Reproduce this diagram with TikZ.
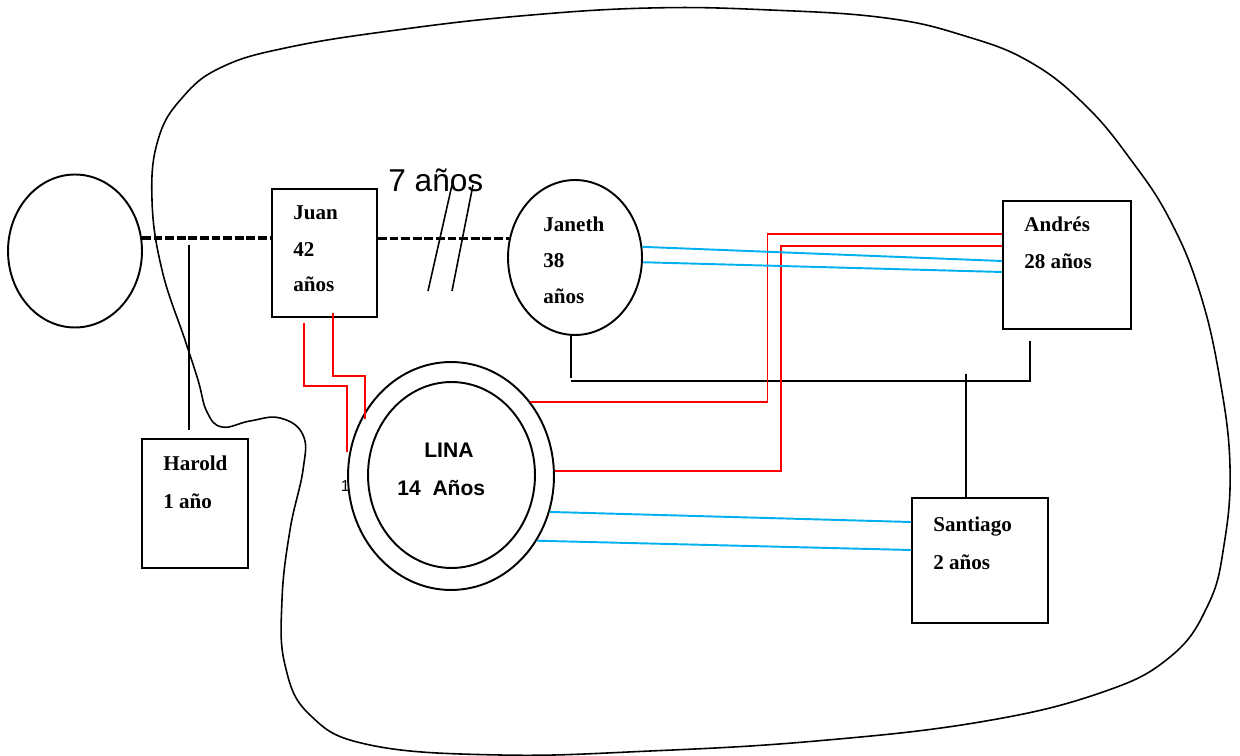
\documentclass[tikz,border=0pt]{standalone}
\usepackage{fontspec}
\setmainfont{Liberation Serif}
\setsansfont{Liberation Sans}
\usetikzlibrary{shapes.geometric}
\definecolor{linkblue}{HTML}{00B0F0}

\begin{document}
\begin{tikzpicture}[x=0.02cm, y=-0.02cm,
    person/.style={draw, line width=1.1pt, inner sep=0pt},
    male/.style={person, rectangle},
    female/.style={person, ellipse},
    lbl/.style={anchor=base west, inner sep=0pt, font=\fontsize{12}{14}\selectfont\bfseries},
    sanslbl/.style={lbl, font=\sffamily\fontsize{12}{14}\selectfont\bfseries},
    union/.style={line width=1.8pt, dash pattern=on 5pt off 1.6pt},
    kin/.style={line width=0.9pt},
    conflict/.style={line width=1.1pt, draw=red},
    closeline/.style={line width=1.1pt, draw=linkblue}]
    \useasboundingbox (0,0) rectangle (1240,756);

    % household boundary
    \draw[line width=0.9pt] plot[smooth cycle, tension=0.7] coordinates {
        (185,340) (162,270) (152,200) (158,140) (182,98) (222,67) (290,47)
        (397,30) (520,16) (650,8) (770,10) (886,18) (965,36) (1030,62)
        (1085,105) (1131,160) (1170,220) (1200,293) (1220,380) (1230,467)
        (1224,545) (1208,605) (1170,657) (1100,693) (980,722) (816,741)
        (650,751) (500,755) (370,745) (310,715) (285,665) (282,600)
        (290,530) (303,470) (303,435) (280,418) (250,421) (222,427)
        (207,412) (198,380)};

    \node[female, minimum width=2.68cm, minimum height=3.06cm] (haroldmom) at (75,251) {};
    \node[male, minimum width=2.1cm, minimum height=2.56cm] (juan) at (324.5,253) {};
    \node[female, minimum width=2.68cm, minimum height=3.1cm] (janeth) at (575,257.5) {};
    \node[male, minimum width=2.56cm, minimum height=2.56cm] (andres) at (1067,265) {};
    \node[male, minimum width=2.12cm, minimum height=2.58cm] (harold) at (195,503.5) {};
    \node[male, minimum width=2.72cm, minimum height=2.5cm] (santiago) at (980,560.5) {};
    \node[female, minimum width=4.12cm, minimum height=4.56cm] (linaout) at (451,476) {};
    \node[female, minimum width=3.34cm, minimum height=3.72cm] (lina) at (451.5,475) {};

    \node[lbl] (juanname) at (293,220) {Juan};
    \node[lbl] (juanage) at (293,257) {42};
    \node[lbl] (juanyrs) at (293,292) {años};
    \node[lbl] (janethname) at (543,232) {Janeth};
    \node[lbl] (janethage) at (543,268) {38};
    \node[lbl] (janethyrs) at (543,304) {años};
    \node[lbl] (andresname) at (1024,232) {Andrés};
    \node[lbl] (andresage) at (1024,269) {28 años};
    \node[lbl] (haroldname) at (163,470) {Harold};
    \node[lbl] (haroldage) at (163,508) {1 año};
    \node[lbl] (santiagoname) at (933,531) {Santiago};
    \node[lbl] (santiagoage) at (933,569) {2 años};
    \node[sanslbl] (linaname) at (424,458) {LINA};
    \node[sanslbl] (linaage) at (397,495) {14\ \ Años};
    \node[anchor=base east, inner sep=0pt, font=\sffamily\fontsize{9}{10}\selectfont] (strayone) at (350,491) {1};
    \node[anchor=base west, inner sep=0pt, font=\sffamily\fontsize{18}{20}\selectfont] (gapyears) at (388,192) {7 años};

    % unions
    \draw[union] (haroldmom.11) -- (haroldmom.11 -| juan.west);
    \draw[union] (juan.east |- janeth.164) -- (janeth.164);
    \draw[kin] (428,291) -- (452,185);
    \draw[kin] (452,291) -- (473,185);

    % descent
    \draw[kin] ([xshift=-0.12cm, yshift=0.16cm]harold.north) -- ++(0,-185);
    \draw[kin] ([xshift=-0.08cm]janeth.south) -- ++(0,42);
    \draw[kin] ([xshift=-0.08cm]janeth.south) ++(0,45) -| ([xshift=-0.74cm, yshift=-0.22cm]andres.south);
    \draw[kin] ([xshift=-0.28cm]santiago.north) -- ++(0,-123);

    % conflict
    \draw[conflict] ([xshift=0.66cm, yshift=-0.1cm]juan.south west) |- ++(43,63) -- ++(0,66);
    \draw[conflict] ([xshift=1.24cm, yshift=0.1cm]juan.south west) |- ++(32,63) -- ++(0,43);
    \draw[conflict] (linaout.43) -- ++(237,0) |- ([yshift=0.62cm]andres.west);
    \draw[conflict] (linaout.3) -- ++(226,0) |- ([yshift=0.38cm]andres.west);

    % close
    \draw[closeline] (janeth.9) -- ([yshift=0.08cm]andres.west);
    \draw[closeline] (janeth.-4) -- ([yshift=-0.14cm]andres.west);
    \draw[closeline] (linaout.-20) -- ([yshift=0.77cm]santiago.west);
    \draw[closeline] (linaout.-37) -- ([yshift=0.21cm]santiago.west);
\end{tikzpicture}
\end{document}
